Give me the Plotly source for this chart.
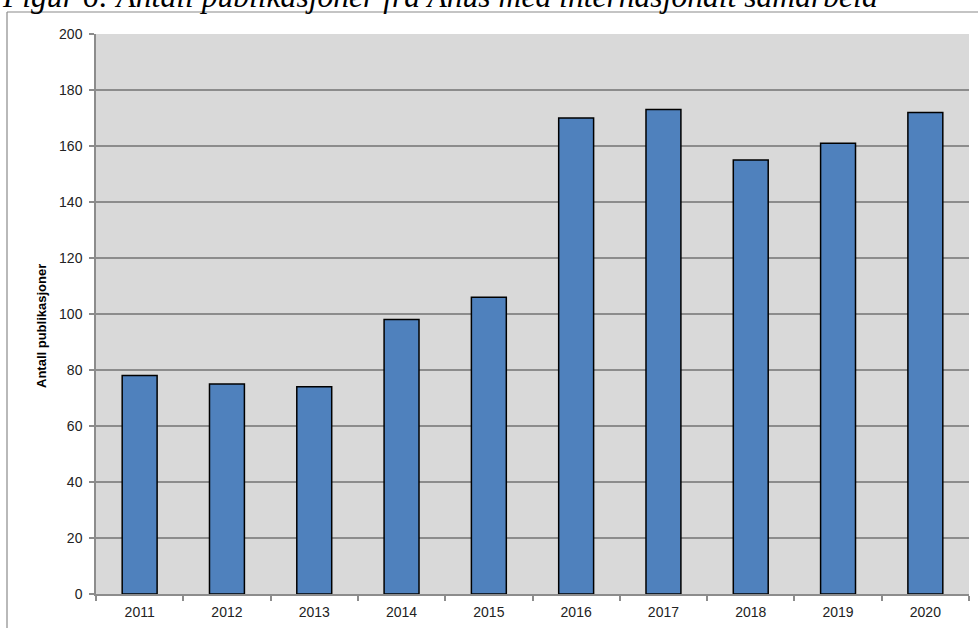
import plotly.graph_objects as go

# Publications with international collaboration per year
years = ["2011", "2012", "2013", "2014", "2015", "2016", "2017", "2018", "2019", "2020"]
publications = [78, 75, 74, 98, 106, 170, 173, 155, 161, 172]

W, H = 978, 628
ML, MR, MT, MB = 96, 9, 34, 34
PW = W - ML - MR
PH = H - MT - MB


def px_x(p):
    return (p - ML) / PW


def px_y(p):
    return (H - MB - p) / PH


grid = "#8c8c8c"
tickfont = dict(family="Liberation Sans, Arial, sans-serif", size=14, color="#222222")

fig = go.Figure(
    go.Bar(
        x=years,
        y=publications,
        width=0.4,
        marker=dict(color="#4f81bd", line=dict(color="#000000", width=1.5)),
    )
)

fig.update_layout(
    width=W,
    height=H,
    margin=dict(l=ML, r=MR, t=MT, b=MB),
    paper_bgcolor="white",
    plot_bgcolor="#d9d9d9",
    showlegend=False,
    bargap=0.6,
    xaxis=dict(
        type="category",
        tickson="boundaries",
        ticks="outside",
        ticklen=5,
        tickcolor=grid,
        tickwidth=1.5,
        showline=True,
        linecolor=grid,
        linewidth=1.5,
        showgrid=False,
        tickfont=tickfont,
        ticklabelstandoff=4,
    ),
    yaxis=dict(
        range=[0, 200],
        dtick=20,
        ticks="outside",
        ticklen=5,
        tickcolor=grid,
        tickwidth=1.5,
        showline=True,
        linecolor=grid,
        linewidth=1.5,
        showgrid=True,
        gridcolor=grid,
        gridwidth=1.5,
        zeroline=False,
        tickfont=tickfont,
        ticklabelstandoff=4,
    ),
    annotations=[
        dict(
            text="Figur 6: Antall publikasjoner fra Ahus med internasjonalt samarbeid",
            xref="paper", yref="paper",
            x=px_x(0), y=px_y(16),
            xanchor="left", yanchor="bottom",
            showarrow=False,
            font=dict(family="Liberation Serif, Times New Roman, serif", size=31.6,
                      color="#000000", style="italic"),
        ),
        dict(
            text="<b>Antall publikasjoner</b>",
            xref="paper", yref="paper",
            x=px_x(42), y=px_y(326),
            xanchor="center", yanchor="middle",
            textangle=-90,
            showarrow=False,
            font=dict(family="Liberation Sans, Arial, sans-serif", size=13, color="#000000"),
        ),
    ],
    shapes=[
        dict(type="line", xref="paper", yref="paper",
             x0=px_x(7), x1=px_x(7), y0=px_y(12), y1=px_y(640),
             line=dict(color="#8a8a8a", width=1.2)),
        dict(type="line", xref="paper", yref="paper",
             x0=px_x(7), x1=px_x(990), y0=px_y(12), y1=px_y(12),
             line=dict(color="#8a8a8a", width=1.2)),
    ],
)

fig.write_html("out.html")
